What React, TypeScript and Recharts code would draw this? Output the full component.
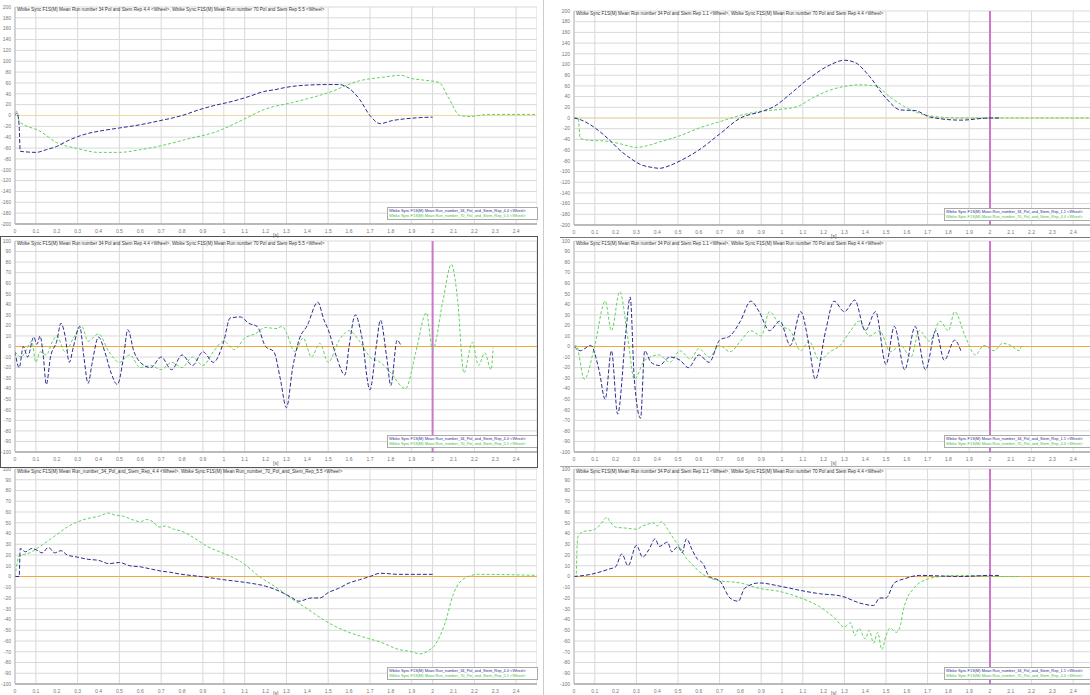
import { LineChart, Line, XAxis, YAxis, CartesianGrid, ReferenceLine } from "recharts";

const xTicks = [0, 0.1, 0.2, 0.3, 0.4, 0.5, 0.6, 0.7, 0.8, 0.9, 1, 1.1, 1.2, 1.3, 1.4, 1.5, 1.6, 1.7, 1.8, 1.9, 2, 2.1, 2.2, 2.3, 2.4];
const yTicksWide = [-200, -180, -160, -140, -120, -100, -80, -60, -40, -20, 0, 20, 40, 60, 80, 100, 120, 140, 160, 180, 200];
const yTicksNarrow = [-100, -90, -80, -70, -60, -50, -40, -30, -20, -10, 0, 10, 20, 30, 40, 50, 60, 70, 80, 90, 100];

// [time s, value]
const blueA = [[0, 0], [0.01, 5], [0.02, -20], [0.025, -66], [0.05, -67], [0.1, -68], [0.15, -63], [0.2, -57], [0.25, -47], [0.3, -39], [0.35, -33], [0.4, -29], [0.5, -23], [0.6, -17], [0.7, -9], [0.76, -4], [0.8, 0], [0.885, 11], [0.95, 18], [1.04, 26], [1.12, 35], [1.19, 44], [1.25, 48], [1.3, 52], [1.4, 56], [1.5, 57], [1.55, 57], [1.6, 50], [1.65, 30], [1.7, 0], [1.75, -15], [1.8, -10], [1.9, -5], [2.0, -3]];
const greenA = [[0, 5], [0.01, 8], [0.02, -11], [0.12, -29], [0.2, -50], [0.3, -61], [0.4, -68], [0.5, -68], [0.6, -63], [0.73, -53], [0.82, -44], [0.97, -29], [1.08, -10], [1.2, 12], [1.33, 24], [1.5, 42], [1.65, 64], [1.75, 70], [1.85, 74], [1.9, 68], [1.94, 66], [2.03, 61], [2.08, 30], [2.13, 0], [2.18, -2], [2.22, 0], [2.27, 2], [2.5, 2]];

const blueB = [[0, -5], [0.02, -20], [0.04, 0], [0.06, -10], [0.09, 9], [0.105, 2], [0.12, 10], [0.135, -8], [0.15, -36], [0.17, -10], [0.2, 5], [0.22, 22], [0.24, 10], [0.26, -15], [0.28, 0], [0.31, 19], [0.33, -10], [0.35, -35], [0.37, -15], [0.4, 9], [0.43, -5], [0.46, -25], [0.49, -36], [0.52, -10], [0.54, 16], [0.57, -5], [0.6, -15], [0.65, -20], [0.7, -10], [0.75, -22], [0.8, -8], [0.85, -18], [0.9, -5], [0.95, -15], [1.0, 5], [1.03, 27], [1.08, 28], [1.12, 22], [1.16, 19], [1.2, 0], [1.24, -5], [1.27, -30], [1.3, -58], [1.33, -20], [1.36, 6], [1.4, 20], [1.45, 42], [1.48, 25], [1.5, 16], [1.54, -10], [1.58, -27], [1.6, 0], [1.63, 30], [1.66, 10], [1.7, -41], [1.73, 0], [1.75, 25], [1.78, -10], [1.8, -37], [1.83, 6], [1.85, 0]];
const greenB = [[0, -5], [0.03, -10], [0.05, -5], [0.08, 5], [0.1, -15], [0.12, -5], [0.15, -8], [0.18, 5], [0.2, 10], [0.24, -5], [0.28, 8], [0.32, 19], [0.35, 5], [0.4, 12], [0.45, -5], [0.5, -15], [0.55, -8], [0.6, -20], [0.65, -18], [0.7, -22], [0.75, -15], [0.8, -20], [0.85, -10], [0.9, -18], [0.95, -5], [1.0, 5], [1.05, -3], [1.1, 8], [1.15, 12], [1.2, 18], [1.25, 17], [1.28, 19], [1.3, 13], [1.34, -5], [1.38, 8], [1.42, -10], [1.46, 3], [1.5, -15], [1.55, 5], [1.6, 15], [1.65, 5], [1.7, -10], [1.75, -15], [1.8, -25], [1.87, -40], [1.92, -5], [1.97, 32], [2.0, -3], [2.05, 44], [2.09, 78], [2.12, 44], [2.15, -25], [2.19, 4], [2.22, -18], [2.25, -6], [2.28, -22], [2.29, -1]];

const blueC = [[0, 0], [0.02, 0], [0.025, 26], [0.05, 23], [0.08, 26], [0.1, 25], [0.13, 22], [0.16, 27], [0.19, 22], [0.22, 24], [0.25, 20], [0.3, 18], [0.35, 16], [0.4, 15], [0.45, 12], [0.5, 13], [0.55, 10], [0.6, 9], [0.65, 7], [0.7, 5], [0.74, 4], [0.8, 2], [0.89, 0], [1.0, -3], [1.12, -6], [1.2, -9], [1.27, -14], [1.32, -19], [1.36, -23], [1.42, -20], [1.46, -20], [1.5, -15], [1.55, -11], [1.6, -6], [1.65, -3], [1.7, 0], [1.75, 3], [1.84, 2], [2.0, 2]];
const greenC = [[0, 0], [0.02, 19], [0.07, 22], [0.12, 28], [0.2, 39], [0.25, 46], [0.33, 53], [0.4, 56], [0.45, 59], [0.48, 57], [0.52, 56], [0.56, 53], [0.6, 51], [0.63, 53], [0.66, 51], [0.69, 46], [0.72, 47], [0.76, 44], [0.8, 42], [0.84, 38], [0.88, 33], [0.92, 28], [0.98, 23], [1.03, 19], [1.08, 14], [1.17, 0], [1.25, -10], [1.32, -20], [1.4, -30], [1.46, -38], [1.53, -46], [1.6, -52], [1.68, -57], [1.75, -61], [1.84, -68], [1.9, -70], [1.94, -72], [1.98, -69], [2.01, -64], [2.06, -43], [2.1, -16], [2.15, -2], [2.22, 2], [2.5, 1]];

const blueD = [[0, 0], [0.03, -3], [0.08, -13], [0.17, -41], [0.22, -60], [0.27, -75], [0.32, -87], [0.37, -92], [0.41, -94], [0.46, -89], [0.5, -82], [0.6, -60], [0.7, -30], [0.8, 0], [0.9, 12], [0.96, 21], [1.04, 45], [1.12, 71], [1.23, 99], [1.3, 108], [1.35, 104], [1.42, 78], [1.5, 37], [1.57, 15], [1.64, 14], [1.71, 2], [1.86, -4], [2.0, 0], [2.05, 0]];
const greenD = [[0, 0], [0.02, 0], [0.03, -38], [0.08, -42], [0.15, -43], [0.22, -48], [0.3, -55], [0.35, -52], [0.41, -45], [0.51, -33], [0.6, -19], [0.7, -7], [0.8, 5], [0.89, 12], [0.96, 15], [1.07, 21], [1.15, 38], [1.23, 52], [1.3, 59], [1.37, 62], [1.45, 60], [1.52, 39], [1.62, 15], [1.71, 4], [1.86, 0], [2.5, 0]];

const blueE = [[0, 0], [0.03, -4], [0.08, 1], [0.12, -22], [0.15, -50], [0.18, -4], [0.21, -64], [0.25, 15], [0.27, 47], [0.29, -31], [0.32, -68], [0.34, -4], [0.37, -15], [0.41, -18], [0.46, -10], [0.51, -13], [0.55, -20], [0.6, -8], [0.65, -15], [0.7, 6], [0.75, 10], [0.8, 24], [0.85, 43], [0.89, 33], [0.94, 15], [0.99, 24], [1.04, 1], [1.09, 33], [1.13, 1], [1.16, -31], [1.21, 15], [1.25, 43], [1.3, 33], [1.35, 44], [1.4, 15], [1.45, 33], [1.5, -17], [1.54, 19], [1.59, -22], [1.64, 19], [1.69, -22], [1.74, 15], [1.78, -13], [1.83, 6], [1.86, -4]];
const greenE = [[0, 0], [0.01, 1], [0.05, -31], [0.1, 1], [0.15, 43], [0.18, 15], [0.22, 52], [0.26, 6], [0.29, -31], [0.34, -13], [0.41, -8], [0.46, -15], [0.51, -4], [0.56, -12], [0.6, -2], [0.65, -10], [0.7, 1], [0.75, -5], [0.8, 5], [0.85, 15], [0.9, 10], [0.94, 33], [0.99, 20], [1.04, 15], [1.09, -4], [1.13, 5], [1.18, -13], [1.23, -5], [1.28, 1], [1.33, 15], [1.37, 24], [1.42, 10], [1.47, 15], [1.52, -5], [1.57, 1], [1.62, -10], [1.66, 15], [1.71, 5], [1.76, 24], [1.8, 15], [1.83, 33], [1.88, 10], [1.93, -8], [1.97, 1], [2.02, -4], [2.06, 3], [2.1, 1], [2.14, -4], [2.15, 0]];

const blueF = [[0, 0], [0.08, 2], [0.17, 7], [0.2, 9], [0.23, 21], [0.26, 10], [0.3, 29], [0.33, 18], [0.36, 25], [0.39, 35], [0.41, 28], [0.45, 32], [0.47, 23], [0.5, 28], [0.52, 22], [0.54, 35], [0.57, 24], [0.59, 17], [0.62, 12], [0.65, 0], [0.7, -4], [0.75, -20], [0.79, -23], [0.82, -11], [0.89, -6], [0.99, -9], [1.09, -13], [1.18, -16], [1.28, -18], [1.38, -25], [1.44, -27], [1.47, -20], [1.5, -20], [1.54, -6], [1.59, -2], [1.66, 1], [1.86, 0], [2.0, 1], [2.05, 1]];
const greenF = [[0, 0], [0.01, 0], [0.015, 28], [0.02, 38], [0.05, 42], [0.09, 43], [0.12, 47], [0.16, 55], [0.17, 52], [0.2, 46], [0.25, 45], [0.3, 44], [0.33, 47], [0.36, 49], [0.38, 50], [0.4, 47], [0.42, 51], [0.45, 44], [0.48, 35], [0.51, 27], [0.54, 17], [0.57, 11], [0.6, 5], [0.7, -4], [0.8, -6], [0.89, -11], [0.99, -14], [1.09, -20], [1.18, -28], [1.25, -38], [1.3, -47], [1.33, -43], [1.35, -55], [1.37, -48], [1.4, -58], [1.42, -50], [1.44, -62], [1.46, -52], [1.48, -68], [1.5, -55], [1.52, -48], [1.55, -52], [1.57, -45], [1.58, -34], [1.6, -21], [1.63, -12], [1.66, -6], [1.76, 0], [1.86, 1], [2.05, 0], [2.14, 0]];

const titles = [
  "Wbike Sync F1S(M) Mean Run number 34 Pol and Stem Rep 4.4 <Wheel>, Wbike Sync F1S(M) Mean Run number 70 Pol and Stem Rep 5.5 <Wheel>",
  "Wbike Sync F1S(M) Mean Run number 34 Pol and Stem Rep 1.1 <Wheel>, Wbike Sync F1S(M) Mean Run number 70 Pol and Stem Rep 4.4 <Wheel>",
  "Wbike Sync F1S(M) Mean Run number 34 Pol and Stem Rep 4.4 <Wheel>, Wbike Sync F1S(M) Mean Run number 70 Pol and Stem Rep 5.5 <Wheel>",
  "Wbike Sync F1S(M) Mean Run number 34 Pol and Stem Rep 1.1 <Wheel>, Wbike Sync F1S(M) Mean Run number 70 Pol and Stem Rep 4.4 <Wheel>",
  "Wbike Sync F1S(M) Mean Run_number_34_Pol_and_Stem_Rep_4.4 <Wheel>, Wbike Sync F1S(M) Mean Run_number_70_Pol_and_Stem_Rep_5.5 <Wheel>",
  "Wbike Sync F1S(M) Mean Run number 34 Pol and Stem Rep 1.1 <Wheel>, Wbike Sync F1S(M) Mean Run number 70 Pol and Stem Rep 4.4 <Wheel>",
];

const toPts = (arr: number[][]) => arr.map(([x, y]) => ({ x, y }));
const font = "'Liberation Sans', Arial, sans-serif";

type PanelProps = {
  left: number; top: number; width: number; height: number;
  plotTop: number; plotH: number; sOffset: number;
  yTicks: number[]; yMax: number;
  blue: number[][]; green: number[][];
  marker: boolean; zeroColor: string; title: string; legend: string[];
};

function Panel(p: PanelProps) {
  const yAxisW = 15;
  const plotW = p.width - yAxisW;
  return (
    <div style={{ position: "absolute", left: p.left, top: p.top, width: p.width, height: p.height }}>
      <LineChart width={p.width} height={p.height} margin={{ top: p.plotTop, right: 0, left: 0, bottom: p.height - p.plotTop - p.plotH - 12 }}>
        <CartesianGrid stroke="#d9d9d9" strokeWidth={1} />
        <XAxis type="number" dataKey="x" domain={[0, 2.5]} ticks={xTicks} height={12} allowDataOverflow
          tick={{ fontSize: 5, fill: "#777", fontFamily: font }} tickLine={false} axisLine={{ stroke: "#888" }} tickSize={3} />
        <YAxis type="number" dataKey="y" domain={[-p.yMax, p.yMax]} ticks={p.yTicks} width={yAxisW} interval={0}
          tick={{ fontSize: 5, fill: "#777", fontFamily: font }} tickLine={false} axisLine={{ stroke: "#bbb" }} tickSize={2} />
        <ReferenceLine y={0} stroke={p.zeroColor} strokeWidth={1} />
        {p.marker && <ReferenceLine x={2} stroke="#cc77cc" strokeWidth={2} />}
        <Line data={toPts(p.green)} dataKey="y" type="monotone" stroke="#5fd35a" strokeWidth={1} strokeDasharray="3 2" dot={false} isAnimationActive={false} />
        <Line data={toPts(p.blue)} dataKey="y" type="monotone" stroke="#2b2b8f" strokeWidth={1} strokeDasharray="4 2" dot={false} isAnimationActive={false} />
      </LineChart>
      <div style={{ position: "absolute", left: yAxisW + 2, top: p.plotTop, fontSize: 4.6, color: "#333", fontFamily: font, whiteSpace: "nowrap", lineHeight: "6px" }}>{p.title}</div>
      <div style={{ position: "absolute", left: yAxisW + plotW / 2 - 3, top: p.plotTop + p.plotH + p.sOffset, fontSize: 5, color: "#555", fontFamily: font, lineHeight: "5px" }}>[s]</div>
      <div style={{ position: "absolute", left: yAxisW + plotW - 150, top: p.plotTop + p.plotH - 17, width: 148, height: 11, border: "1px solid #aaa", background: "#fff", fontFamily: font, fontSize: 3.9, lineHeight: "5px", whiteSpace: "nowrap", overflow: "hidden", paddingLeft: 1 }}>
        <div style={{ color: "#2b2b8f" }}>{p.legend[0]}</div>
        <div style={{ color: "#3cc23a" }}>{p.legend[1]}</div>
      </div>
    </div>
  );
}

const legendL = ["Wbike Sync F1S(M) Mean Run_number_34_Pol_and_Stem_Rep_4.4 <Wheel>", "Wbike Sync F1S(M) Mean Run_number_70_Pol_and_Stem_Rep_5.5 <Wheel>"];
const legendR = ["Wbike Sync F1S(M) Mean Run_number_34_Pol_and_Stem_Rep_1.1 <Wheel>", "Wbike Sync F1S(M) Mean Run_number_70_Pol_and_Stem_Rep_4.4 <Wheel>"];

export default function App() {
  return (
    <div style={{ position: "absolute", left: 0, top: 0, width: 1090, height: 695, overflow: "hidden", background: "#fff" }}>
      <Panel left={0} top={0} width={537} height={240} plotTop={7} plotH={217} sOffset={9} yTicks={yTicksWide} yMax={200}
        blue={blueA} green={greenA} marker={false} zeroColor="#f0d9a0" title={titles[0]} legend={legendL} />
      <Panel left={0} top={234} width={537} height={234} plotTop={7} plotH={211} sOffset={9} yTicks={yTicksNarrow} yMax={100}
        blue={blueB} green={greenB} marker={true} zeroColor="#f0a840" title={titles[2]} legend={legendL} />
      <Panel left={0} top={462} width={537} height={240} plotTop={7} plotH={215} sOffset={7} yTicks={yTicksNarrow} yMax={100}
        blue={blueC} green={greenC} marker={false} zeroColor="#f0a840" title={titles[4]} legend={legendL} />
      <Panel left={559} top={4} width={535} height={237} plotTop={7} plotH={214} sOffset={9} yTicks={yTicksWide} yMax={200}
        blue={blueD} green={greenD} marker={true} zeroColor="#f0d9a0" title={titles[1]} legend={legendR} />
      <Panel left={559} top={234} width={535} height={234} plotTop={7} plotH={211} sOffset={9} yTicks={yTicksNarrow} yMax={100}
        blue={blueE} green={greenE} marker={true} zeroColor="#f0a840" title={titles[3]} legend={legendR} />
      <Panel left={559} top={462} width={535} height={240} plotTop={7} plotH={215} sOffset={7} yTicks={yTicksNarrow} yMax={100}
        blue={blueF} green={greenF} marker={true} zeroColor="#f0a840" title={titles[5]} legend={legendR} />
      <div style={{ position: "absolute", left: 0, top: 236, width: 536, height: 230, border: "1px solid #555", pointerEvents: "none" }} />
      <div style={{ position: "absolute", left: 543, top: 0, width: 1, height: 695, background: "#ccc" }} />
      <div style={{ position: "absolute", left: 560, top: 237, width: 530, height: 1, background: "#777" }} />
      <div style={{ position: "absolute", left: 560, top: 466, width: 530, height: 1, background: "#aaa" }} />
    </div>
  );
}
